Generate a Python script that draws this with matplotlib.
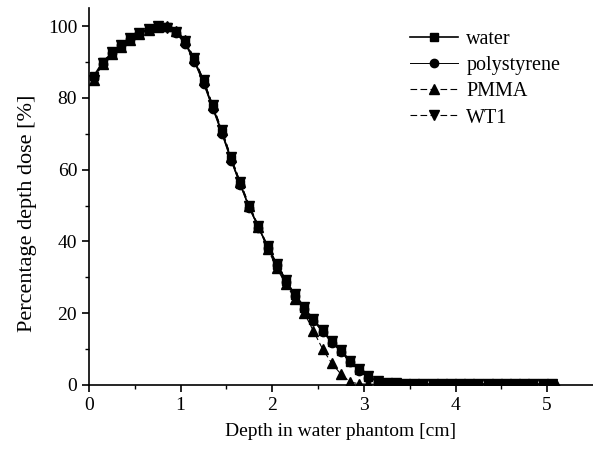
import numpy as np
import matplotlib
matplotlib.use('Agg')
import matplotlib.pyplot as plt

plt.rcParams['font.family'] = ['Liberation Serif', 'DejaVu Serif']

# depth (cm)
depth = [0.05, 0.15, 0.25, 0.35, 0.45, 0.55, 0.65, 0.75, 0.85, 0.95,
         1.05, 1.15, 1.25, 1.35, 1.45, 1.55, 1.65, 1.75, 1.85, 1.95,
         2.05, 2.15, 2.25, 2.35, 2.45, 2.55, 2.65, 2.75, 2.85, 2.95,
         3.05, 3.15, 3.25, 3.35, 3.45, 3.55, 3.65, 3.75, 3.85, 3.95,
         4.05, 4.15, 4.25, 4.35, 4.45, 4.55, 4.65, 4.75, 4.85, 4.95, 5.05]

water = [86, 90, 92.5, 94.5, 96.3, 97.8, 99, 99.8, 99.8, 98.3,
         95.5, 90.5, 84.5, 77.5, 70.5, 63, 56, 49.5, 44, 38.5,
         33.5, 29, 25, 21.5, 18, 15, 12, 9.5, 6.5, 4.2,
         2.2, 1.0, 0.6, 0.4, 0.3, 0.25, 0.2, 0.2, 0.2, 0.2,
         0.2, 0.2, 0.2, 0.2, 0.2, 0.2, 0.2, 0.2, 0.2, 0.2, 0.2]

polystyrene = [85.5, 89.5, 92.5, 94.7, 96.5, 98, 99.2, 99.9, 99.7, 98.0,
               95.0, 90.0, 84.0, 77.0, 70.0, 62.5, 55.8, 49.2, 43.8, 38.3,
               33.3, 28.8, 24.8, 21.3, 17.8, 14.8, 11.8, 9.2, 6.3, 4.0,
               2.0, 0.9, 0.5, 0.4, 0.3, 0.25, 0.2, 0.2, 0.2, 0.2,
               0.2, 0.2, 0.2, 0.2, 0.2, 0.2, 0.2, 0.2, 0.2, 0.2, 0.2]

pmma_depth = [0.05, 0.15, 0.25, 0.35, 0.45, 0.55, 0.65, 0.75, 0.85, 0.95,
              1.05, 1.15, 1.25, 1.35, 1.45, 1.55, 1.65, 1.75, 1.85, 1.95,
              2.05, 2.15, 2.25, 2.35, 2.45, 2.55, 2.65, 2.75, 2.85, 2.95,
              3.05, 3.15, 3.25, 3.35, 3.45, 3.55, 3.65, 3.75, 3.85, 3.95,
              4.05, 4.15, 4.25, 4.35, 4.45, 4.55, 4.65, 4.75, 4.85, 4.95, 5.1]
pmma = [85, 89.5, 92.2, 94.3, 96.2, 97.8, 99, 99.7, 99.9, 98.6,
        96.0, 91.0, 85.0, 78.0, 71.0, 63.5, 56.5, 50.0, 44.0, 38.0,
        32.5, 28.0, 24.0, 20.0, 15.0, 10.0, 6.0, 3.0, 0.8, 0.3,
        0.2, 0.2, 0.2, 0.2, 0.2, 0.2, 0.2, 0.2, 0.2, 0.2,
        0.2, 0.2, 0.2, 0.2, 0.2, 0.2, 0.2, 0.2, 0.2, 0.2, 0.3]

wt1 = [85, 89.8, 92.8, 94.8, 96.6, 98.1, 99.3, 100, 99.6, 98.5,
       95.8, 91.0, 85.0, 78.0, 71.0, 63.5, 56.5, 50.0, 44.3, 38.8,
       33.8, 29.3, 25.3, 21.8, 18.3, 15.3, 12.3, 9.8, 6.8, 4.4,
       2.4, 1.1, 0.6, 0.4, 0.3, 0.25, 0.2, 0.2, 0.2, 0.2,
       0.2, 0.2, 0.2, 0.2, 0.2, 0.2, 0.2, 0.2, 0.2, 0.2, 0.2]

fig = plt.figure(figsize=(5.93, 4.55), dpi=100)
ax = fig.add_axes([0.150, 0.154, 0.85, 0.828])

ax.plot(depth, water, color='black', lw=1.2, marker='s', ms=6, label='water')
ax.plot(depth, polystyrene, color='black', lw=0.7, marker='o', ms=6, label='polystyrene')
ax.plot(pmma_depth, pmma, color='black', lw=0.8, ls=(0, (6, 3)), marker='^', ms=7, label='PMMA')
ax.plot(depth, wt1, color='black', lw=0.8, ls=(0, (6, 3)), marker='v', ms=7, label='WT1')

ax.set_xlim(0, 5.5)
ax.set_ylim(0, 105)
ax.set_xticks([0, 1, 2, 3, 4, 5])
ax.set_xticks([0.5, 1.5, 2.5, 3.5, 4.5], minor=True)
ax.set_yticks([0, 20, 40, 60, 80, 100])
ax.set_yticks([10, 30, 50, 70, 90], minor=True)
ax.spines['top'].set_visible(False)
ax.spines['right'].set_visible(False)
for s in ['left', 'bottom']:
    ax.spines[s].set_linewidth(1.2)
ax.tick_params(which='major', direction='out', length=5, width=1.2, labelsize=14)
ax.tick_params(which='minor', direction='out', length=3, width=1.0)

ax.set_xlabel('Depth in water phantom [cm]', fontsize=14, labelpad=7)
ax.set_ylabel('Percentage depth dose [%]', fontsize=16)
ax.yaxis.set_label_coords(-0.103, 0.456)

ax.legend(loc='upper left', frameon=False, fontsize=14.5, handlelength=2.4,
          handletextpad=0.4, borderpad=0, borderaxespad=0, labelspacing=0.35,
          bbox_to_anchor=(410 / 593, 1 - 30 / 455), bbox_transform=fig.transFigure)

fig.savefig('out.png', dpi=100)
